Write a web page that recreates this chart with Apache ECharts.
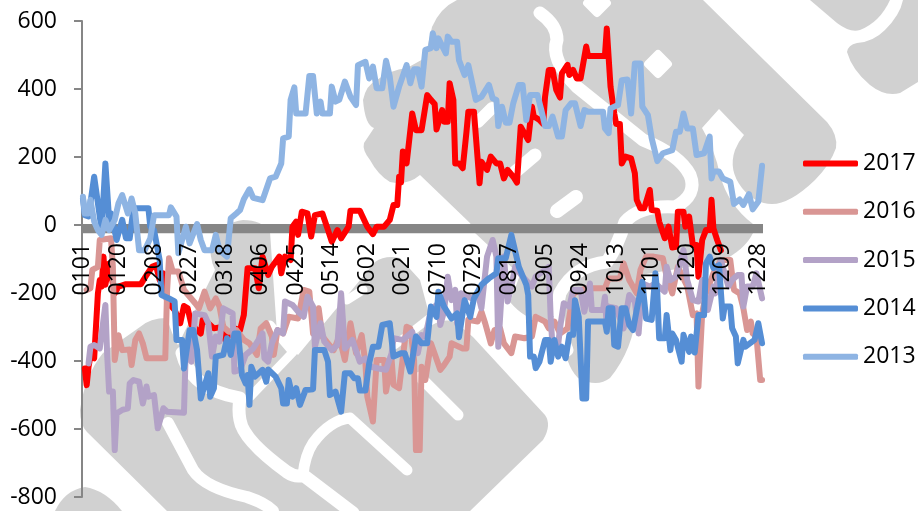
<!DOCTYPE html>
<html>
<head>
<meta charset="utf-8">
<style>html,body{margin:0;padding:0;background:#fff}#chart{width:918px;height:511px}</style>
<script src="https://cdn.jsdelivr.net/npm/echarts@6/dist/echarts.min.js"></script>
</head>
<body>
<div id="chart"></div>
<script>
// Seasonal spread by calendar day, one line per year. Each entry is [day of year index, value].
const monthLengths = [31, 28, 31, 30, 31, 30, 31, 31, 30, 31, 30, 30];
const names = ['2017', '2016', '2015', '2014', '2013'];
const colors = ['#FF0000', '#D99694', '#B3A2C7', '#558ED5', '#8EB4E3'];

const line2017 = [[1,-422],[2,-471],[3,-417],[4,-387],[6,-392],[8,-201],[9,-162],[10,-181],[11,-93],[12,-176],[14,-113],[17,-201],[19,-181],[23,-174],[31,-174],[34,-147],[37,-123],[39,-118],[41,-162],[43,-142],[45,-225],[49,-250],[52,-289],[54,-238],[56,-245],[58,-294],[63,-319],[64,-279],[66,-284],[70,-304],[75,-299],[76,-338],[81,-304],[84,-309],[86,-265],[88,-127],[92,-127],[94,-186],[96,-93],[99,-147],[101,-123],[105,-93],[106,-142],[108,-93],[111,-103],[112,-5],[114,10],[115,-29],[117,39],[120,34],[122,-34],[124,29],[128,34],[131,-15],[133,-49],[136,-15],[138,-39],[142,-5],[143,42],[148,42],[152,-5],[155,-27],[157,-5],[161,-5],[164,15],[166,59],[168,59],[169,142],[170,125],[171,216],[173,181],[176,328],[178,279],[181,279],[184,382],[186,368],[188,356],[189,281],[192,338],[193,304],[195,304],[196,417],[198,368],[199,181],[201,181],[203,167],[205,274],[206,333],[209,333],[212,123],[213,186],[216,162],[218,201],[221,181],[223,181],[225,137],[227,162],[230,142],[232,125],[234,289],[238,250],[240,348],[241,319],[244,309],[246,297],[247,377],[249,456],[251,456],[253,397],[255,375],[256,446],[259,471],[260,441],[262,456],[264,431],[266,431],[269,525],[270,497],[279,497],[280,578],[282,407],[284,328],[285,297],[287,297],[288,181],[290,201],[293,196],[295,152],[296,74],[298,49],[300,49],[303,103],[304,44],[307,42],[308,10],[311,-39],[313,-5],[314,-5],[315,-66],[317,-64],[318,39],[321,39],[322,-5],[324,25],[326,-59],[328,-59],[329,-152],[331,-44],[333,-15],[335,-15],[336,74],[337,-10],[339,-44],[341,-74]];

const line2016 = [[2,-191],[4,-186],[5,-132],[8,-123],[9,-44],[15,-39],[16,-123],[17,-397],[19,-324],[21,-368],[25,-366],[26,-412],[28,-338],[30,-319],[32,-348],[34,-392],[44,-392],[45,-191],[46,-98],[48,-137],[51,-137],[54,-191],[60,-230],[62,-245],[65,-196],[68,-245],[71,-216],[73,-240],[75,-299],[78,-314],[82,-309],[86,-338],[89,-348],[93,-382],[95,-304],[98,-289],[101,-328],[102,-382],[104,-309],[107,-319],[110,-270],[115,-275],[118,-191],[121,-196],[123,-319],[126,-245],[128,-328],[131,-348],[134,-368],[137,-328],[140,-397],[143,-289],[146,-377],[149,-324],[151,-407],[152,-505],[155,-578],[157,-397],[161,-397],[162,-490],[165,-397],[166,-470],[169,-480],[173,-299],[175,-304],[177,-397],[178,-662],[180,-662],[181,-417],[183,-456],[186,-348],[191,-426],[193,-412],[196,-387],[197,-348],[203,-363],[205,-363],[206,-279],[211,-284],[213,-255],[215,-289],[218,-348],[220,-309],[223,-304],[225,-348],[229,-377],[231,-328],[236,-333],[240,-328],[242,-270],[247,-284],[249,-304],[252,-284],[255,-319],[259,-304],[262,-201],[269,-186],[279,-186],[281,-157],[287,-157],[289,-113],[292,-162],[296,-201],[298,-132],[301,-93],[305,-93],[310,-98],[312,-152],[315,-201],[318,-123],[323,-181],[326,-265],[328,-260],[329,-475],[330,-475],[331,-260],[333,-201],[337,-142],[341,-103],[346,-103],[348,-191],[351,-201],[353,-245],[355,-309],[357,-284],[358,-319],[360,-328],[362,-456],[363,-456]];

const line2015 = [[3,-407],[4,-358],[6,-353],[9,-363],[12,-235],[13,-387],[14,-490],[16,-490],[17,-662],[18,-554],[21,-544],[24,-539],[25,-466],[27,-456],[30,-461],[32,-525],[34,-475],[35,-505],[38,-500],[40,-598],[41,-603],[43,-539],[45,-549],[54,-552],[55,-358],[58,-402],[59,-407],[60,-260],[65,-265],[67,-289],[69,-387],[71,-328],[73,-343],[75,-245],[80,-260],[81,-431],[84,-426],[87,-382],[91,-363],[96,-319],[97,-392],[99,-402],[101,-348],[104,-309],[107,-319],[108,-225],[112,-235],[115,-255],[118,-270],[120,-211],[123,-240],[124,-358],[125,-358],[127,-289],[129,-343],[133,-368],[136,-353],[138,-201],[140,-363],[144,-338],[148,-402],[151,-392],[154,-417],[158,-422],[162,-426],[165,-377],[166,-333],[171,-338],[176,-314],[179,-377],[181,-324],[183,-328],[186,-250],[190,-230],[191,-294],[193,-255],[195,-152],[197,-221],[199,-191],[200,-289],[202,-201],[208,-216],[211,-201],[213,-245],[216,-93],[219,-44],[221,-93],[222,-358],[223,-358],[225,-93],[227,-225],[229,-181],[231,-123],[235,-152],[240,-181],[242,-152],[247,-132],[249,-123],[250,-270],[251,-358],[254,-353],[255,-304],[257,-230],[260,-240],[262,-191],[266,-191],[268,-255],[271,-172],[272,-250],[278,-250],[279,-211],[280,-299],[281,-240],[285,-245],[289,-304],[292,-206],[295,-225],[297,-319],[299,-172],[303,-181],[306,-172],[311,-196],[312,-123],[314,-162],[317,-152],[321,-74],[323,-162],[326,-221],[329,-225],[331,-162],[334,-250],[337,-181],[338,-201],[341,-103],[345,-181],[347,-162],[350,-147],[352,-147],[353,-240],[355,-181],[358,-181],[360,-142],[363,-216]];

const line2014 = [[0,78],[1,29],[3,25],[6,142],[7,142],[9,25],[10,-15],[12,181],[14,15],[15,34],[16,34],[18,-44],[21,15],[23,-39],[25,-39],[27,49],[35,49],[36,-5],[38,-15],[41,-103],[42,-206],[46,-216],[49,-225],[50,-338],[53,-338],[54,-422],[57,-309],[59,-309],[61,-368],[63,-510],[67,-436],[68,-505],[70,-480],[71,-387],[75,-382],[77,-333],[79,-382],[81,-319],[83,-319],[85,-441],[87,-466],[88,-441],[89,-529],[90,-417],[92,-446],[96,-426],[98,-461],[99,-425],[103,-446],[106,-480],[107,-525],[109,-525],[110,-456],[112,-505],[114,-480],[116,-529],[119,-485],[123,-483],[124,-368],[129,-368],[131,-402],[132,-500],[135,-490],[138,-549],[139,-549],[140,-436],[143,-436],[145,-451],[147,-451],[148,-487],[151,-487],[153,-407],[155,-358],[158,-358],[160,-294],[164,-289],[166,-387],[170,-377],[172,-377],[175,-431],[178,-328],[181,-348],[184,-348],[186,-240],[189,-270],[190,-196],[193,-240],[197,-275],[200,-260],[201,-330],[204,-221],[207,-270],[209,-216],[213,-176],[217,-157],[221,-142],[222,-98],[226,-98],[229,-29],[230,-29],[233,-123],[237,-176],[238,-206],[239,-387],[241,-387],[242,-421],[244,-402],[247,-338],[249,-338],[250,-402],[252,-338],[254,-387],[256,-358],[258,-392],[260,-323],[262,-323],[263,-221],[265,-270],[267,-510],[269,-510],[270,-284],[279,-284],[280,-314],[281,-245],[283,-245],[284,-353],[286,-358],[288,-245],[290,-245],[292,-294],[294,-309],[296,-250],[297,-245],[299,-167],[301,-275],[304,-279],[306,-142],[307,-201],[308,-333],[311,-333],[312,-265],[314,-368],[315,-319],[317,-338],[320,-402],[321,-323],[324,-373],[325,-328],[327,-375],[329,-265],[332,-265],[333,-113],[335,-93],[337,-127],[340,-118],[342,-275],[343,-240],[346,-240],[347,-304],[349,-328],[350,-407],[353,-338],[354,-358],[359,-338],[361,-289],[363,-348]];

const line2013 = [[0,83],[1,34],[3,34],[4,74],[6,10],[8,-15],[10,-29],[12,15],[14,-15],[17,15],[19,64],[21,88],[24,34],[26,78],[28,34],[30,-74],[33,-74],[36,-39],[38,29],[46,29],[47,52],[50,25],[51,-83],[55,-5],[57,-54],[58,-54],[61,3],[63,-44],[65,-74],[69,-74],[71,-29],[73,-74],[77,-93],[79,20],[82,34],[84,44],[86,76],[89,105],[91,80],[96,73],[100,137],[103,142],[106,181],[107,255],[110,260],[111,368],[113,405],[114,328],[119,328],[121,438],[123,438],[125,328],[127,363],[128,328],[132,328],[133,407],[135,363],[137,368],[140,422],[143,377],[146,353],[147,470],[151,480],[153,431],[155,466],[157,402],[160,402],[162,483],[164,436],[166,348],[169,407],[173,470],[175,417],[177,458],[179,458],[181,407],[183,515],[186,520],[187,564],[189,520],[190,549],[194,505],[195,554],[197,539],[200,539],[201,485],[204,441],[206,470],[210,368],[213,377],[217,412],[219,373],[221,368],[222,291],[224,348],[226,301],[228,301],[230,358],[233,412],[235,412],[237,309],[239,382],[243,382],[245,338],[247,291],[249,291],[251,319],[254,260],[256,260],[258,338],[261,358],[263,358],[266,291],[268,338],[270,333],[278,333],[279,284],[281,270],[282,343],[286,353],[288,426],[291,428],[293,328],[295,475],[298,475],[299,348],[302,323],[304,255],[305,250],[307,188],[310,211],[315,220],[317,274],[319,274],[321,328],[323,284],[326,284],[328,206],[332,211],[335,260],[336,137],[337,157],[340,157],[342,137],[346,127],[348,62],[351,75],[353,59],[356,91],[358,46],[361,69],[363,174]];

const seriesValues = [line2017, line2016, line2015, line2014, line2013];

// Day labels MMDD for the category axis.
const categories = [];
monthLengths.forEach((len, m) => {
  for (let d = 1; d <= len; d++) {
    categories.push(String(m + 1).padStart(2, '0') + String(d).padStart(2, '0'));
  }
});

// Light grey backdrop artwork behind the plot.
const GREY = '#D1D1D1';
const fills = [
  'M457 0L703 0L827 122Q838 135 836 148Q830 165 815 180Q790 204 772 204Q755 204 742 188Q728 170 735 150Q738 142 744 135L719 109L702 128Q715 150 720 175Q728 205 753 224L753 233Q745 250 720 262L640 275L637 310Q633 350 610 378Q597 388 578 378Q565 365 563 335L545 322Q525 320 510 302L520 275L475 233L470 223L420 175Q407 186 390 182Q378 175 370 160Q362 150 364 143L374 128Q365 125 363 100Q366 85 377 80Q390 70 407 68L425 58L432 27Q440 8 457 0Z',
  'M167 318Q150 318 140 327L103 353Q85 375 80 410Q80 425 87 432L167 511L470 511L543 440Q552 425 545 415L473 337L455 322Q445 318 432 325L420 280L400 258Q385 255 375 262L298 355L277 333L270 232Q262 220 243 220Q225 222 212 240Q208 255 215 270L178 345Q172 335 167 318Z',
  'M55 511Q65 490 85 487Q105 490 122 511Z',
  'M810 0L837 23Q850 33 860 30Q880 22 890 0Z',
  'M857 43Q848 45 847 52Q852 70 870 85Q885 97 900 93L918 82L918 0L903 0Q900 15 885 30Q873 42 857 43Z'
];
const cuts = [
  { d: 'M540 13Q557 25 557 40Q550 60 577 87L643 140Q680 155 690 175Q698 195 675 207Q640 205 625 222Q618 245 607 262Q575 265 560 293Q553 320 567 350', w: 13 },
  { d: 'M182 353Q190 385 227 395L240 398Q238 410 240 420Q243 440 287 472Q296 478 303 475L353 513', w: 13 },
  { d: 'M168 423L193 470Q205 488 247 497Q265 503 273 511', w: 12 },
  { d: 'M303 475Q305 455 313 443Q330 420 350 418L407 470', w: 11 },
  { d: 'M270 325L293 352L250 397', w: 9 },
  { d: 'M420 377L458 415', w: 11 },
  { d: 'M395 345L432 316', w: 8 },
  { d: 'M347 300L363 290', w: 9 },
  { d: 'M478 122L492 108', w: 12 },
  { d: 'M515 172L535 155', w: 13 },
  { d: 'M557 211L576 197', w: 14 }
];
const diamonds = [
  { x: 597, y: 3, s: 22 },
  { x: 658, y: 64, s: 22 }
];
// Each outline becomes its own registered shape so the graphic component can draw it.
const shapeType = (d, key) => {
  echarts.graphic.registerShape(key, echarts.graphic.extendPath(d));
  return key;
};
const backdrop = [
  ...fills.map((d, i) => ({
    type: shapeType(d, 'backFill' + i), z: 0, silent: true, style: { fill: GREY }
  })),
  ...cuts.map((c, i) => ({
    type: shapeType(c.d, 'backCut' + i), z: 0, silent: true,
    style: { fill: 'none', stroke: '#fff', lineWidth: c.w, lineCap: 'round', lineJoin: 'round' }
  })),
  ...diamonds.map(p => ({
    type: 'rect', z: 0, silent: true, x: p.x, y: p.y, rotation: Math.PI / 4,
    shape: { x: -p.s / 2, y: -p.s / 2, width: p.s, height: p.s, r: 4 },
    style: { fill: '#fff' }
  }))
];

const FONT = '"Open Sans", sans-serif';
const chart = echarts.init(document.getElementById('chart'), null, { renderer: 'canvas' });
chart.setOption({
  animation: false,
  backgroundColor: '#fff',
  graphic: { elements: backdrop },
  grid: { left: 82, top: 21, width: 681, height: 476, containLabel: false, outerBoundsMode: 'none' },
  legend: {
    orient: 'vertical', left: 803, top: 152, padding: 0,
    data: names.map(n => ({ name: n, icon: 'roundRect' })),
    itemWidth: 55, itemHeight: 6, itemGap: 25.3,
    itemStyle: { borderWidth: 0 },
    textStyle: { fontFamily: FONT, fontSize: 23, color: '#000' }
  },
  xAxis: {
    type: 'category', data: categories, boundaryGap: true, zlevel: 1,
    // the category labels hang just under the zero band
    offset: -272,
    axisLine: { show: false, onZero: false },
    axisTick: { show: false },
    splitLine: { show: false },
    axisLabel: { interval: 18, rotate: 90, margin: 18, fontFamily: FONT, fontSize: 23, color: '#000', hideOverlap: false }
  },
  yAxis: {
    type: 'value', min: -800, max: 600, interval: 200,
    axisLine: { show: true, lineStyle: { color: '#868686', width: 2 } },
    axisTick: { show: true, length: 8, lineStyle: { color: '#868686', width: 2 } },
    splitLine: { show: false },
    axisLabel: { margin: 25, fontFamily: FONT, fontSize: 23, color: '#000' }
  },
  series: names.map((name, i) => ({
    name, type: 'line', data: seriesValues[i], symbol: 'none', smooth: false, z: 3 + i,
    lineStyle: { color: colors[i], width: 6, cap: 'round', join: 'round' },
    itemStyle: { color: colors[i] },
    // thick zero band sits under every line
    markArea: i === 0 ? {
      silent: true, z: 1,
      itemStyle: { color: '#868686' },
      data: [[{ yAxis: 3 }, { yAxis: -24 }]]
    } : undefined
  }))
});
</script>
</body>
</html>
